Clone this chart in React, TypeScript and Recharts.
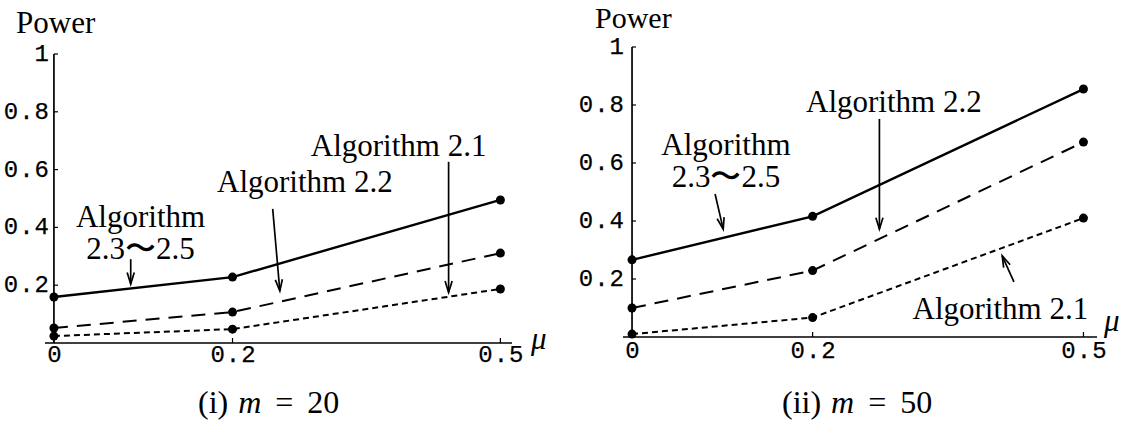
import React from 'react';
import {
  LineChart,
  Line,
  XAxis,
  YAxis,
  ReferenceLine,
  ReferenceDot,
} from 'recharts';

// detection power against mu, for m = 20 and m = 50
const mu = [0, 0.2, 0.5];
const muTicks = [0, 0.2, 0.5];
const muTickLabels = ['0', '0.2', '0.5'];
const powerTicks = [0.2, 0.4, 0.6, 0.8, 1];
const powerTickLabels = ['0.2', '0.4', '0.6', '0.8', '1'];

const m20Alg23to25 = [0.159, 0.228, 0.495];
const m20Alg22 = [0.052, 0.107, 0.311];
const m20Alg21 = [0.024, 0.048, 0.187];

const m50Alg23to25 = [0.266, 0.416, 0.855];
const m50Alg22 = [0.1, 0.229, 0.672];
const m50Alg21 = [0.01, 0.067, 0.41];

const serif = '"Liberation Serif", "Times New Roman", serif';
const mono = '"Liberation Mono", "Courier New", monospace';

type Pt = { x: number; y: number };
type Note = { lines: string[]; at: Pt };
type Arrow = { from: Pt; to: Pt };

const buildRows = (a: number[], b: number[], c: number[]) =>
  mu.map((m, i) => ({ mu: m, alg2325: a[i], alg22: b[i], alg21: c[i] }));

const ArrowShape = (props: any) => {
  const { x1, y1, x2, y2 } = props;
  const ang = Math.atan2(y2 - y1, x2 - x1);
  const len = 12;
  const spread = 0.3;
  const ax = x2 - len * Math.cos(ang - spread);
  const ay = y2 - len * Math.sin(ang - spread);
  const bx = x2 - len * Math.cos(ang + spread);
  const by = y2 - len * Math.sin(ang + spread);
  return (
    <g stroke="#000" strokeWidth={1.7} fill="none">
      <line x1={x1} y1={y1} x2={x2} y2={y2} />
      <polyline points={`${ax},${ay} ${x2},${y2} ${bx},${by}`} />
    </g>
  );
};

const NoteLabel = ({ viewBox, lines }: any) => {
  const cx = viewBox.x + (viewBox.width || 0) / 2;
  const cy = viewBox.y + (viewBox.height || 0) / 2;
  return (
    <text x={cx} y={cy} textAnchor="middle" fontFamily={serif} fontSize={31} fill="#000">
      {lines.map((s: string, i: number) => (
        <tspan key={i} x={cx} dy={i === 0 ? 10 - (lines.length - 1) * 16 : 32}>
          {s}
        </tspan>
      ))}
    </text>
  );
};

type PanelProps = {
  left: number;
  width: number;
  margin: { top: number; right: number; bottom: number; left: number };
  xDomain: [number, number];
  rows: any[];
  notes: Note[];
  arrows: Arrow[];
  labelShift: number;
  axisShift: number;
  xLabelDy: number;
};

const tickFont = {
  fontFamily: mono,
  fontSize: 24,
  letterSpacing: 1,
  fill: '#000',
  stroke: '#000',
  strokeWidth: 0.25,
};

const Panel = (p: PanelProps) => {
  const YTick = (t: any) => {
    const i = powerTicks.indexOf(t.payload.value);
    return (
      <g>
        <text x={t.x + p.labelShift} y={t.y + 7} textAnchor="end" {...tickFont}>
          {powerTickLabels[i]}
        </text>
        <line x1={t.x + p.axisShift} x2={t.x + p.axisShift + 4} y1={t.y} y2={t.y} stroke="#000" strokeWidth={1.2} />
      </g>
    );
  };
  const XTick = (t: any) => {
    const i = muTicks.indexOf(t.payload.value);
    return (
      <g>
        <text x={t.x + 1} y={t.y + p.xLabelDy} textAnchor="middle" {...tickFont}>
          {muTickLabels[i]}
        </text>
        <line x1={t.x} x2={t.x} y1={t.y} y2={t.y - 5} stroke="#000" strokeWidth={1.2} />
      </g>
    );
  };
  const dot = { r: 4.5, fill: '#000', stroke: 'none' };
  return (
    <div style={{ position: 'absolute', left: p.left, top: 0 }}>
      <LineChart width={p.width} height={425} data={p.rows} margin={p.margin}>
        <XAxis
          type="number"
          dataKey="mu"
          domain={p.xDomain}
          ticks={muTicks}
          height={30}
          tickSize={0}
          tickMargin={0}
          tick={XTick}
          axisLine={{ stroke: '#000', strokeWidth: 1.7 }}
          tickLine={false}
        />
        <YAxis
          type="number"
          domain={[0, 1]}
          ticks={powerTicks}
          width={40}
          tickSize={0}
          tickMargin={0}
          tick={YTick}
          axisLine={false}
          tickLine={false}
        />
        <ReferenceLine
          segment={[{ x: 0, y: 0 }, { x: 0, y: 1 }]}
          stroke="#000"
          strokeWidth={1.7}
          ifOverflow="visible"
        />
        <Line dataKey="alg2325" stroke="#000" strokeWidth={2.4} dot={dot} isAnimationActive={false} />
        <Line dataKey="alg22" stroke="#000" strokeWidth={2} strokeDasharray="14 9" dot={dot} isAnimationActive={false} />
        <Line dataKey="alg21" stroke="#000" strokeWidth={2} strokeDasharray="6 4" dot={dot} isAnimationActive={false} />
        {p.arrows.map((a, i) => (
          <ReferenceLine key={'a' + i} segment={[a.from, a.to]} shape={ArrowShape} ifOverflow="visible" />
        ))}
        {p.notes.map((n, i) => (
          <ReferenceDot
            key={'n' + i}
            x={n.at.x}
            y={n.at.y}
            r={1}
            fill="none"
            stroke="none"
            ifOverflow="visible"
            label={(lp: any) => <NoteLabel {...lp} lines={n.lines} />}
          />
        ))}
      </LineChart>
    </div>
  );
};

const m20Notes: Note[] = [
  { lines: ['Algorithm 2.1'], at: { x: 0.386, y: 0.683 } },
  { lines: ['Algorithm 2.2'], at: { x: 0.281, y: 0.558 } },
  { lines: ['Algorithm', '2.3\u301C2.5'], at: { x: 0.097, y: 0.38 } },
];
const m20Arrows: Arrow[] = [
  { from: { x: 0.442, y: 0.627 }, to: { x: 0.442, y: 0.175 } },
  { from: { x: 0.245, y: 0.464 }, to: { x: 0.253, y: 0.18 } },
  { from: { x: 0.086, y: 0.29 }, to: { x: 0.086, y: 0.204 } },
];
const m50Notes: Note[] = [
  { lines: ['Algorithm 2.2'], at: { x: 0.29, y: 0.81 } },
  { lines: ['Algorithm', '2.3\u301C2.5'], at: { x: 0.104, y: 0.607 } },
  { lines: ['Algorithm 2.1'], at: { x: 0.408, y: 0.097 } },
];
const m50Arrows: Arrow[] = [
  { from: { x: 0.274, y: 0.752 }, to: { x: 0.274, y: 0.372 } },
  { from: { x: 0.092, y: 0.493 }, to: { x: 0.101, y: 0.372 } },
  { from: { x: 0.423, y: 0.19 }, to: { x: 0.41, y: 0.28 } },
];

// axis titles and panel captions
const Caption = ({ x, tag, value }: { x: number; tag: string; value: string }) => (
  <text x={x} y={413} fontFamily={serif} fontSize={32} fill="#000">
    {tag}
    <tspan dx={10} fontStyle="italic">m</tspan>
    <tspan dx={14}>=</tspan>
    <tspan dx={14}>{value}</tspan>
  </text>
);

export default function App() {
  return (
    <div style={{ position: 'absolute', left: 0, top: 0, width: 1132, height: 425, background: '#fff', overflow: 'hidden' }}>
      <Panel
        left={0}
        width={560}
        margin={{ top: 54, right: 48, bottom: 52, left: 5 }}
        xDomain={[-0.01, 0.513]}
        rows={buildRows(m20Alg23to25, m20Alg22, m20Alg21)}
        notes={m20Notes}
        arrows={m20Arrows}
        labelShift={5}
        axisShift={9}
        xLabelDy={19}
      />
      <Panel
        left={570}
        width={562}
        margin={{ top: 47, right: 35, bottom: 58, left: 13 }}
        xDomain={[-0.01, 0.515]}
        rows={buildRows(m50Alg23to25, m50Alg22, m50Alg21)}
        notes={m50Notes}
        arrows={m50Arrows}
        labelShift={2}
        axisShift={9}
        xLabelDy={21}
      />
      <svg width={1132} height={425} style={{ position: 'absolute', left: 0, top: 0, pointerEvents: 'none' }}>
        <text x={16} y={33} fontFamily={serif} fontSize={31} fill="#000">Power</text>
        <text x={595} y={28} fontFamily={serif} fontSize={30} fill="#000">Power</text>
        <text x={531} y={349} fontFamily={serif} fontSize={31} fontStyle="italic" fill="#000">{'\u03BC'}</text>
        <text x={1104} y={331} fontFamily={serif} fontSize={31} fontStyle="italic" fill="#000">{'\u03BC'}</text>
        <Caption x={198} tag="(i)" value="20" />
        <Caption x={782} tag="(ii)" value="50" />
      </svg>
    </div>
  );
}
